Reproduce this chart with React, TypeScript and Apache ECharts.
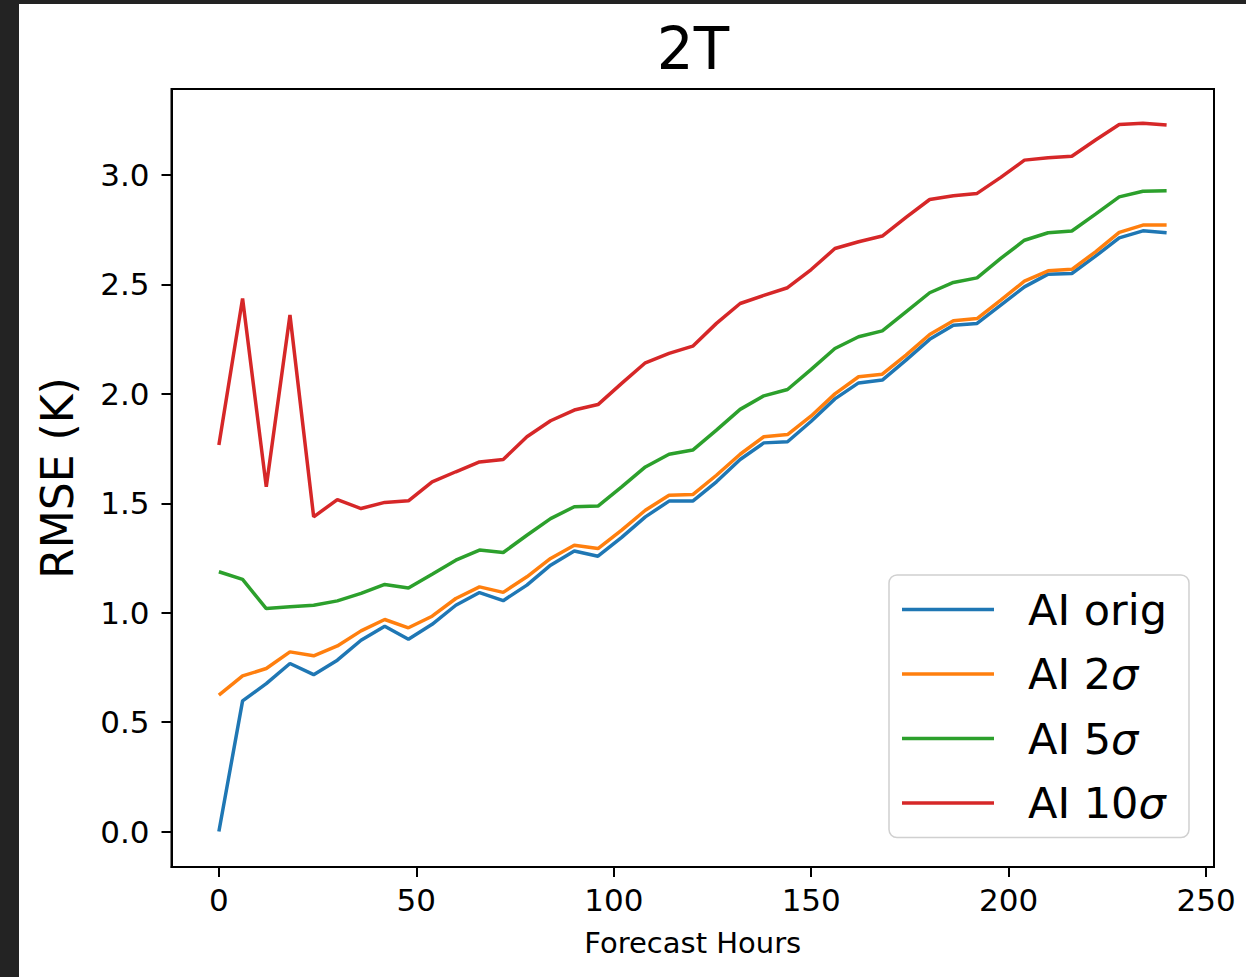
import React, { useEffect, useRef } from "react";
import * as echarts from "echarts";

const hours = [0, 6, 12, 18, 24, 30, 36, 42, 48, 54, 60, 66, 72, 78, 84, 90, 96, 102, 108, 114, 120, 126, 132, 138, 144, 150, 156, 162, 168, 174, 180, 186, 192, 198, 204, 210, 216, 222, 228, 234, 240];

const seriesNames = ["AI orig", "AI 2σ", "AI 5σ", "AI 10σ"];
const seriesColors = ["#1f77b4", "#ff7f0e", "#2ca02c", "#d62728"];

const aiOrig = [0.0, 0.597, 0.676, 0.768, 0.717, 0.783, 0.874, 0.938, 0.879, 0.947, 1.034, 1.092, 1.055, 1.126, 1.217, 1.282, 1.258, 1.344, 1.438, 1.51, 1.51, 1.598, 1.7, 1.776, 1.781, 1.875, 1.977, 2.05, 2.063, 2.154, 2.249, 2.314, 2.322, 2.405, 2.489, 2.547, 2.55, 2.629, 2.713, 2.745, 2.736];
const ai2s = [0.623, 0.711, 0.745, 0.821, 0.803, 0.848, 0.917, 0.969, 0.931, 0.984, 1.065, 1.118, 1.093, 1.164, 1.248, 1.308, 1.293, 1.377, 1.468, 1.537, 1.54, 1.628, 1.724, 1.804, 1.814, 1.899, 2.0, 2.078, 2.09, 2.177, 2.271, 2.334, 2.344, 2.428, 2.515, 2.562, 2.569, 2.649, 2.738, 2.771, 2.771];
const ai5s = [1.187, 1.152, 1.019, 1.027, 1.034, 1.054, 1.088, 1.129, 1.113, 1.176, 1.24, 1.286, 1.275, 1.354, 1.43, 1.484, 1.487, 1.575, 1.666, 1.724, 1.743, 1.834, 1.929, 1.991, 2.02, 2.112, 2.207, 2.261, 2.288, 2.375, 2.462, 2.509, 2.53, 2.619, 2.702, 2.736, 2.744, 2.821, 2.9, 2.926, 2.928];
const ai10s = [1.766, 2.436, 1.575, 2.36, 1.438, 1.517, 1.476, 1.504, 1.511, 1.598, 1.644, 1.689, 1.7, 1.804, 1.877, 1.926, 1.951, 2.048, 2.142, 2.185, 2.218, 2.322, 2.413, 2.45, 2.485, 2.568, 2.664, 2.695, 2.721, 2.806, 2.888, 2.905, 2.916, 2.989, 3.068, 3.079, 3.086, 3.16, 3.231, 3.236, 3.228];

const xTicks = [0, 50, 100, 150, 200, 250];
const yTicks = [0, 0.5, 1.0, 1.5, 2.0, 2.5, 3.0];

const titleText = "2T";
const xName = "Forecast Hours";
const yName = "RMSE (K)";

const FONT = "DejaVu Sans";

export default function App() {
  const ref = useRef<HTMLDivElement>(null);

  useEffect(() => {
    if (!ref.current) return;
    const chart = echarts.init(ref.current, null, { renderer: "svg" });
    const allValues = [aiOrig, ai2s, ai5s, ai10s];

    const option: any = {
      animation: false,
      backgroundColor: "#232323",
      graphic: [
        {
          type: "rect",
          z: -100,
          silent: true,
          shape: { x: 19, y: 4, width: 1227, height: 973 },
          style: { fill: "#ffffff" },
        },
        {
          type: "text",
          z: 10,
          x: 693,
          y: 20,
          style: {
            text: titleText,
            fill: "#000000",
            font: `58px "${FONT}"`,
            align: "center",
            verticalAlign: "top",
          },
        },
      ],
      grid: {
        left: 171.5,
        right: 32,
        top: 89,
        bottom: 110,
        show: true,
        borderColor: "#000000",
        borderWidth: 2,
        backgroundColor: "transparent",
      },
      legend: {
        orient: "vertical",
        left: 889,
        top: 575,
        padding: [13, 22, 13, 13],
        icon: "rect",
        itemWidth: 92,
        itemHeight: 3.5,
        itemGap: 21.5,
        backgroundColor: "rgba(255,255,255,0.8)",
        borderColor: "#d0d0d0",
        borderWidth: 1.5,
        borderRadius: 8,
        data: seriesNames,
        formatter: (name: string) => name.replace("σ", "{i|σ}"),
        textStyle: {
          fontFamily: FONT,
          fontSize: 43,
          lineHeight: 43,
          color: "#000000",
          padding: [0, 0, 0, 29],
          rich: {
            i: {
              fontFamily: FONT,
              fontSize: 43,
              lineHeight: 43,
              fontStyle: "italic",
              color: "#000000",
            },
          },
        },
      },
      xAxis: {
        type: "value",
        min: -12,
        max: 252,
        name: xName,
        nameLocation: "middle",
        nameGap: 61,
        nameTextStyle: { fontFamily: FONT, fontSize: 29, color: "#000000" },
        splitLine: { show: false },
        axisLine: { show: true, onZero: false, lineStyle: { color: "#000000", width: 2 } },
        axisTick: {
          show: true,
          length: 10,
          inside: false,
          customValues: xTicks,
          lineStyle: { color: "#000000", width: 2 },
        },
        axisLabel: {
          show: true,
          customValues: xTicks,
          margin: 17,
          fontFamily: FONT,
          fontSize: 31,
          color: "#000000",
        },
      },
      yAxis: {
        type: "value",
        min: -0.162,
        max: 3.393,
        name: yName,
        nameLocation: "middle",
        nameGap: 92,
        nameRotate: 90,
        nameTextStyle: { fontFamily: FONT, fontSize: 44, color: "#000000" },
        splitLine: { show: false },
        axisLine: { show: true, onZero: false, lineStyle: { color: "#000000", width: 2 } },
        axisTick: {
          show: true,
          length: 10,
          inside: false,
          customValues: yTicks,
          lineStyle: { color: "#000000", width: 2 },
        },
        axisLabel: {
          show: true,
          customValues: yTicks,
          margin: 22,
          fontFamily: FONT,
          fontSize: 31,
          color: "#000000",
          formatter: (v: number) => v.toFixed(1),
        },
      },
      series: seriesNames.map((name, k) => ({
        name,
        type: "line",
        symbol: "none",
        showSymbol: false,
        color: seriesColors[k],
        itemStyle: { color: seriesColors[k] },
        lineStyle: { color: seriesColors[k], width: 3.5 },
        data: hours.map((h, i) => [h, allValues[k][i]]),
      })),
    };

    chart.setOption(option);
    return () => chart.dispose();
  }, []);

  return (
    <div
      ref={ref}
      style={{ position: "absolute", left: 0, top: 0, width: 1246, height: 977 }}
    />
  );
}
